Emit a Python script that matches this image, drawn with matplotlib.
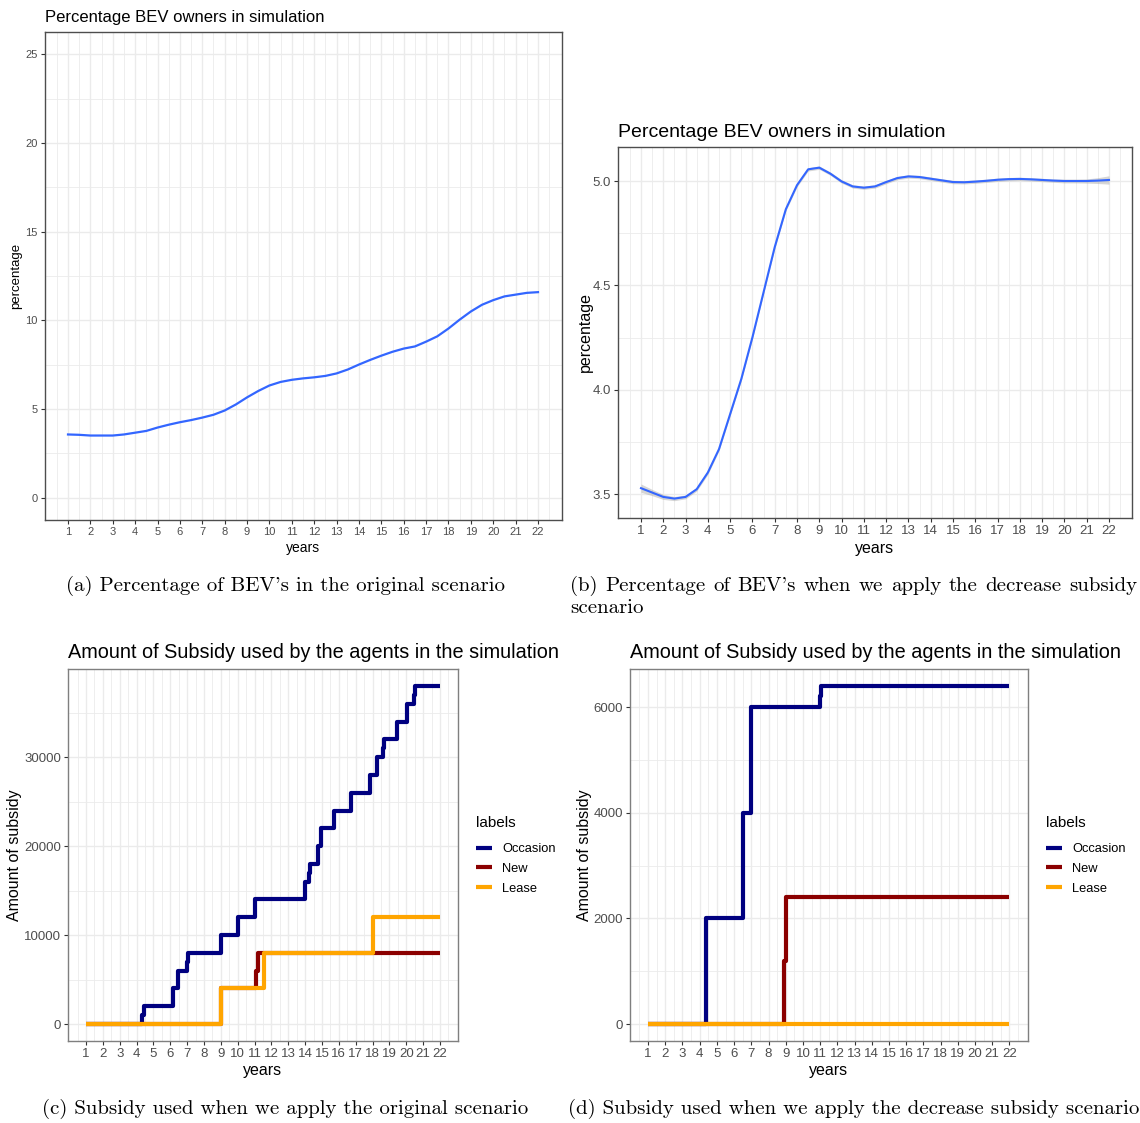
import matplotlib
matplotlib.use("Agg")
import matplotlib.pyplot as plt
import numpy as np

plt.rcParams['font.family'] = ['Liberation Sans', 'DejaVu Sans']
CAP = ['cmr10', 'DejaVu Serif']

# ---- data ----
years = list(range(1, 23))
half_years = np.arange(1, 22.5, 0.5)

# (a) smoothed share of BEV owners, original scenario
bev_orig = [3.57, 3.55, 3.51, 3.51, 3.51, 3.57, 3.67, 3.77, 3.96, 4.12, 4.26,
            4.38, 4.52, 4.68, 4.92, 5.26, 5.66, 6.02, 6.33, 6.53, 6.65, 6.73,
            6.79, 6.87, 7.01, 7.23, 7.51, 7.77, 8.01, 8.23, 8.41, 8.53, 8.80,
            9.10, 9.54, 10.04, 10.50, 10.88, 11.14, 11.35, 11.45, 11.55, 11.59]

# (b) smoothed share of BEV owners, decrease subsidy scenario + band half width
bev_decr = [3.528, 3.507, 3.486, 3.478, 3.486, 3.523, 3.603, 3.715, 3.883, 4.051,
            4.251, 4.467, 4.683, 4.865, 4.980, 5.056, 5.064, 5.035, 4.998, 4.974,
            4.968, 4.974, 4.995, 5.014, 5.022, 5.019, 5.011, 5.003, 4.995, 4.994,
            4.997, 5.001, 5.006, 5.009, 5.010, 5.008, 5.005, 5.002, 5.000, 5.000,
            5.000, 5.002, 5.005]
bev_decr_se = [0.020, 0.015, 0.012, 0.010, 0.009, 0.009, 0.009, 0.008, 0.008, 0.008,
               0.008, 0.008, 0.008, 0.008, 0.008, 0.008, 0.008, 0.008, 0.008, 0.008,
               0.008, 0.008, 0.008, 0.008, 0.008, 0.008, 0.008, 0.008, 0.008, 0.008,
               0.008, 0.008, 0.008, 0.008, 0.008, 0.008, 0.008, 0.008, 0.009, 0.009,
               0.010, 0.014, 0.020]

# (c) cumulative subsidy, original scenario
occ_c_x = [1, 4.33, 4.42, 6.15, 6.47, 6.99, 7.05, 9.0, 10.0, 11.0, 14.0, 14.22, 14.28,
           14.78, 14.93, 15.71, 16.74, 17.84, 18.29, 18.6, 18.66, 19.46, 20.06, 20.45,
           20.52, 22]
occ_c_y = [0, 1000, 2000, 4000, 6000, 7000, 8000, 10000, 12000, 14000, 16000, 17000,
           18000, 20000, 22000, 24000, 26000, 28000, 30000, 31000, 32000, 34000, 36000,
           37000, 38000, 38000]
new_c_x = [1, 9.0, 11.1, 11.2, 22]
new_c_y = [0, 4000, 6000, 8000, 8000]
lease_c_x = [1, 9.0, 11.55, 18.0, 22]
lease_c_y = [0, 4000, 8000, 12000, 12000]

# (d) cumulative subsidy, decrease subsidy scenario
occ_d_x = [1, 4.38, 6.53, 6.97, 11.0, 11.07, 22]
occ_d_y = [0, 2000, 4000, 6000, 6200, 6400, 6400]
new_d_x = [1, 8.92, 9.02, 22]
new_d_y = [0, 1200, 2400, 2400]
lease_d_x = [1, 22]
lease_d_y = [0, 0]

labels = ['Occasion', 'New', 'Lease']
colors = ['#000080', '#8B0000', '#FFA500']

W, H = 1140, 1123
fig = plt.figure(figsize=(W / 100, H / 100), dpi=100)


def px_axes(l, t, r, b):
    return fig.add_axes([l / W, 1 - b / H, (r - l) / W, (b - t) / H])


def ftext(x, y, s, **kw):
    return fig.text(x / W, 1 - y / H, s, **kw)


def style(ax, ylim, yt, ymin, border, tick_fs):
    ax.set_xlim(-0.05, 23.05)
    ax.set_ylim(*ylim)
    ax.set_xticks(years)
    ax.set_xticks(np.arange(0.5, 23, 1), minor=True)
    ax.set_yticks(yt)
    ax.set_yticks(ymin, minor=True)
    ax.grid(which='major', color='#ebebeb', lw=1.0)
    ax.grid(which='minor', color='#ebebeb', lw=0.6)
    ax.set_axisbelow(True)
    for s in ax.spines.values():
        s.set_color(border)
        s.set_linewidth(1.0)
    ax.tick_params(which='major', length=3, width=0.8, color='#333333',
                   labelsize=tick_fs, labelcolor='#4d4d4d', pad=2)
    ax.tick_params(which='minor', length=0)


# ---- (a) ----
ax = px_axes(44.5, 32, 561.5, 520)
ax.plot(half_years, bev_orig, color='#3366FF', lw=1.6)
style(ax, (-1.25, 26.25), [0, 5, 10, 15, 20, 25], [2.5, 7.5, 12.5, 17.5, 22.5],
      '#4d4d4d', 8)
ftext(45, 22, 'Percentage BEV owners in simulation', fontsize=12, va='baseline')
ftext(16, 276, 'percentage', fontsize=9.5, rotation=90, ha='center', va='center')
ftext(303, 548, 'years', fontsize=10, ha='center', va='center')

# ---- (b) ----
ax = px_axes(617.6, 147, 1132.4, 518)
lo = np.array(bev_decr) - np.array(bev_decr_se)
hi = np.array(bev_decr) + np.array(bev_decr_se)
ax.fill_between(half_years, lo, hi, color='#999999', alpha=0.4, lw=0)
ax.plot(half_years, bev_decr, color='#3366FF', lw=1.5)
style(ax, (3.385, 5.163), [3.5, 4.0, 4.5, 5.0], [3.75, 4.25, 4.75], '#4d4d4d', 9.5)
ax.set_yticklabels(['3.5', '4.0', '4.5', '5.0'])
ftext(618, 137, 'Percentage BEV owners in simulation', fontsize=14, va='baseline')
ftext(585, 332, 'percentage', fontsize=11.5, rotation=90, ha='center', va='center')
ftext(875, 548, 'years', fontsize=11.5, ha='center', va='center')


# ---- (c) and (d) ----
def subsidy_panel(l, r, data, ylim, yt, ymin, title_x, ylab_x, legend_x):
    ax = px_axes(l, 669, r, 1041)
    handles = []
    for (xs, ys), c, lab in zip(data, colors, labels):
        h, = ax.plot(xs, ys, drawstyle='steps-post', color=c, lw=3.0,
                     solid_capstyle='butt', label=lab)
        handles.append(h)
    style(ax, ylim, yt, ymin, '#7f7f7f', 9.5)
    ftext(title_x, 658, 'Amount of Subsidy used by the agents in the simulation',
          fontsize=14.3, va='baseline')
    ftext(ylab_x, 855, 'Amount of subsidy', fontsize=11.5, rotation=90,
          ha='center', va='center')
    ftext((l + r) / 2, 1070, 'years', fontsize=11.5, ha='center', va='center')
    ftext(legend_x, 823, 'labels', fontsize=11, va='center')
    fig.legend(handles, labels, loc='upper left',
               bbox_to_anchor=(legend_x / W, 1 - 843 / H), frameon=False,
               fontsize=9.3, handlelength=1.25, handletextpad=0.8,
               labelspacing=0.6, borderpad=0, borderaxespad=0)
    return ax


subsidy_panel(68.3, 457.7,
              [(occ_c_x, occ_c_y), (new_c_x, new_c_y), (lease_c_x, lease_c_y)],
              (-1900, 39900), [0, 10000, 20000, 30000], [5000, 15000, 25000, 35000],
              68, 15, 476)
subsidy_panel(630, 1027.5,
              [(occ_d_x, occ_d_y), (new_d_x, new_d_y), (lease_d_x, lease_d_y)],
              (-320, 6720), [0, 2000, 4000, 6000], [1000, 3000, 5000],
              630, 584, 1046)

# ---- captions ----
CFS = 15
ftext(285.5, 586, "(a) Percentage of BEV's in the original scenario", fontsize=CFS,
      family=CAP, ha='center', va='center')
ftext(285.5, 1109, "(c) Subsidy used when we apply the original scenario", fontsize=CFS,
      family=CAP, ha='center', va='center')
ftext(853.5, 1109, "(d) Subsidy used when we apply the decrease subsidy scenario",
      fontsize=CFS, family=CAP, ha='center', va='center')

# (b) caption, first line justified across the column
words = "(b) Percentage of BEV's when we apply the decrease subsidy".split()
r = fig.canvas.get_renderer()
arts = [ftext(0, 586, w, fontsize=CFS, family=CAP, va='center') for w in words]
widths = [a.get_window_extent(r).width for a in arts]
gap = (1137 - 570 - sum(widths)) / (len(words) - 1)
x = 570
for a, w in zip(arts, widths):
    a.set_x(x / W)
    x += w + gap
ftext(570, 608, 'scenario', fontsize=CFS, family=CAP, va='center')

fig.savefig('out.png', dpi=100)
